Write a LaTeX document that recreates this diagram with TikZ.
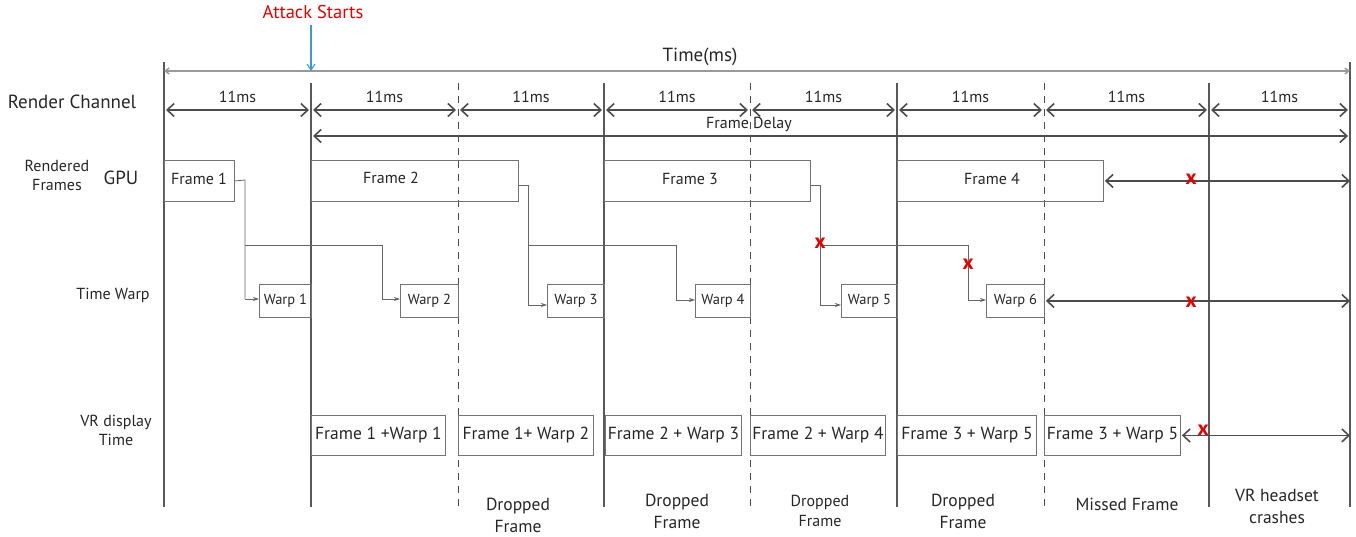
\documentclass[tikz,border=0pt]{standalone}
\usepackage{fontspec}
\setmainfont{PT Sans}
\usetikzlibrary{arrows.meta,calc}
\begin{document}
\begin{tikzpicture}[x=1pt,y=-1pt,
  every node/.style={inner sep=0pt, text=black!85},
  big/.style={font=\fontsize{19}{21}\selectfont},
  mid/.style={font=\fontsize{16}{18}\selectfont},
  vtx/.style={font=\fontsize{17.5}{19}\selectfont},
  sm/.style={font=\fontsize{16}{19}\selectfont, align=center},
  bot/.style={font=\fontsize{17.5}{22}\selectfont, align=center},
  wtxt/.style={font=\fontsize{14.5}{16}\selectfont},
  box/.style={draw=black!55, line width=0.9pt, minimum width=#1, anchor=north west},
  vsolid/.style={draw=black!65, line width=1.3pt},
  vdash/.style={draw=black!70, line width=1pt, dash pattern=on 7pt off 6pt},
  dim/.style={draw=black!70, line width=1.4pt, {Straight Barb[length=7pt,width=13pt,line width=1.6pt]}-{Straight Barb[length=7pt,width=13pt,line width=1.6pt]}},
  thin/.style={draw=black!40, line width=1.4pt, {Straight Barb[length=4pt,width=6pt]}-{Straight Barb[length=4pt,width=6pt]}},
  conn/.style={draw=black!60, line width=0.8pt},
  tip/.style={-{Stealth[length=6pt,width=4pt]}},
  xmark/.style={text=red!90!black, font=\fontsize{21}{21}\selectfont\bfseries},
]
\useasboundingbox (0,0) rectangle (1356,537);

% ---------- vertical time lines ----------
\foreach \n/\x/\t in {a/164/62, b/311/83, d/604/83, f/897/83, h/1209/83, i/1350/62} {
  \coordinate (\n t) at (\x,\t);
  \coordinate (\n b) at (\x,507);
  \draw[vsolid] (\n t) -- (\n b);
}
\foreach \n/\x in {c/458, e/750, g/1044} {
  \coordinate (\n t) at (\x,83);
  \coordinate (\n b) at (\x,507);
  \draw[vdash] (\n t) -- (\n b);
}

% ---------- time axis ----------
\coordinate (tl) at (164,71);
\coordinate (tr) at (1350,71);
\draw[thin] (tl) -- (tr);
\node[big] (time) at (700,57) {Time(ms)};

\node[text=red!90!black, font=\fontsize{18.5}{20}\selectfont] (attack) at (313,12) {Attack Starts};
\coordinate (atk) at (311,71);
\coordinate (atk0) at (311,25);
\draw[draw=cyan!70!blue!80, line width=1.1pt, -{Straight Barb[length=6pt,width=8pt]}] (atk0) -- (atk);

% ---------- row labels ----------
\node[big] (rc) at (72,102) {Render Channel};
\node[sm] (rf) at (57,175) {Rendered\\Frames};
\node[big] (gpu) at (121,178) {GPU};
\node[sm] (tw) at (113,295) {Time Warp};
\node[sm] (vr) at (116,430) {VR display\\Time};

% ---------- 11ms dimensions ----------
\foreach \p/\q in {a/b, b/c, c/d, d/e, e/f, f/g, g/h, h/i} {
  \path (\p t |- 0,110) coordinate (L\p) (\q t |- 0,110) coordinate (R\p);
  \draw[dim] ([xshift=2pt]L\p) -- ([xshift=-2pt]R\p);
  \node[mid] (ms\p) at ($(L\p)!0.5!(R\p)+(0,-13)$) {11ms};
}

% ---------- frame delay ----------
\coordinate (fdl) at (311,136);
\coordinate (fdr) at (1350,136);
\draw[dim] ([xshift=2pt]fdl) -- ([xshift=-2pt]fdr);
\node[mid] (fd) at (749,124) {Frame Delay};

% ---------- GPU frames ----------
\node[box=70pt, minimum height=41pt] (f1) at (164,160) {};
\node[box=207pt, minimum height=41pt] (f2) at (311,160) {};
\node[box=206pt, minimum height=41pt] (f3) at (604,160) {};
\node[box=206pt, minimum height=41pt] (f4) at (897,160) {};
\node[mid] (f1t) at (199,179) {Frame 1};
\node[mid] (f2t) at (391,178) {Frame 2};
\node[mid] (f3t) at (690,179) {Frame 3};
\node[mid] (f4t) at (992,179) {Frame 4};

\draw[dim] ([xshift=1pt]f4.east) -- (f4.east -| ib);
\node[xmark] (x1) at (1191,179) {x};

% ---------- warps ----------
\foreach \n/\x/\w in {w1/259/52, w2/400/58, w3/547/57, w4/695/55, w5/841/56, w6/986/58} {
  \node[box=\w pt, minimum height=33pt] (\n) at (\x,284) {};
}
\foreach \n/\k in {w1/1, w2/2, w3/3, w4/4, w5/5, w6/6} {
  \node[wtxt] (\n t) at (\n) {Warp \k};
}

\draw[dim] ([xshift=1pt]w6.east) -- (w6.east -| ib);
\node[xmark] (x2) at (1191,302) {x};

% connectors
\coordinate (j1) at (245,180);
\coordinate (k1) at (245,245);
\coordinate (m1) at (382,245);
\draw[conn] (f1.east) -- (j1) -- (j1 |- 0,299) coordinate (n1);
\draw[conn, tip] (n1) -- (w1.west |- n1);
\draw[conn] (k1) -- (m1) -- (m1 |- 0,299) coordinate (n2);
\draw[conn, tip] (n2) -- (w2.west |- n2);

\coordinate (j2) at (528,185);
\coordinate (m2) at (676,245);
\draw[conn] (f2.east |- j2) -- (j2) -- (j2 |- 0,305) coordinate (n3);
\draw[conn, tip] (n3) -- (w3.west |- n3);
\draw[conn] (j2 |- 0,245) -- (m2) -- (m2 |- 0,300) coordinate (n4);
\draw[conn, tip] (n4) -- (w4.west |- n4);

\coordinate (j3) at (820,185);
\coordinate (m3) at (968,245);
\draw[conn] (f3.east |- j3) -- (j3) -- (j3 |- 0,305) coordinate (n5);
\draw[conn, tip] (n5) -- (w5.west |- n5);
\draw[conn] (j3 |- 0,245) -- (m3) -- (m3 |- 0,300) coordinate (n6);
\draw[conn, tip] (n6) -- (w6.west |- n6);
\node[xmark] (x3) at (820,243) {x};
\node[xmark] (x4) at (968,264) {x};

% ---------- VR display ----------
\foreach \n/\x/\w/\txt in {v1/311/134/{Frame 1 +Warp 1}, v2/458/135/{Frame 1+ Warp 2}, v3/605/136/{Frame 2 + Warp 3}, v4/750/135/{Frame 2 + Warp 4}, v5/897/139/{Frame 3 + Warp 5}, v6/1044/136/{Frame 3 + Warp 5}} {
  \node[box=\w pt, minimum height=40pt] (\n) at (\x,415) {};
  \node[vtx] (\n t) at (\n) {\txt};
}
\draw[dim] ([xshift=1pt]v6.east) -- (v6.east -| ib);
\node[xmark] (x5) at (1203,430) {x};

% ---------- bottom labels ----------
\node[bot] (d1) at (518,515) {Dropped\\Frame};
\node[bot] (d2) at (677,511) {Dropped\\Frame};
\node[bot, font=\fontsize{16}{20}\selectfont] (d3) at (820,511) {Dropped\\Frame};
\node[bot] (d4) at (963,511) {Dropped\\Frame};
\node[bot] (mf) at (1127,504) {Missed Frame};
\node[bot] (vc) at (1277,506) {VR headset\\crashes};
\end{tikzpicture}
\end{document}
